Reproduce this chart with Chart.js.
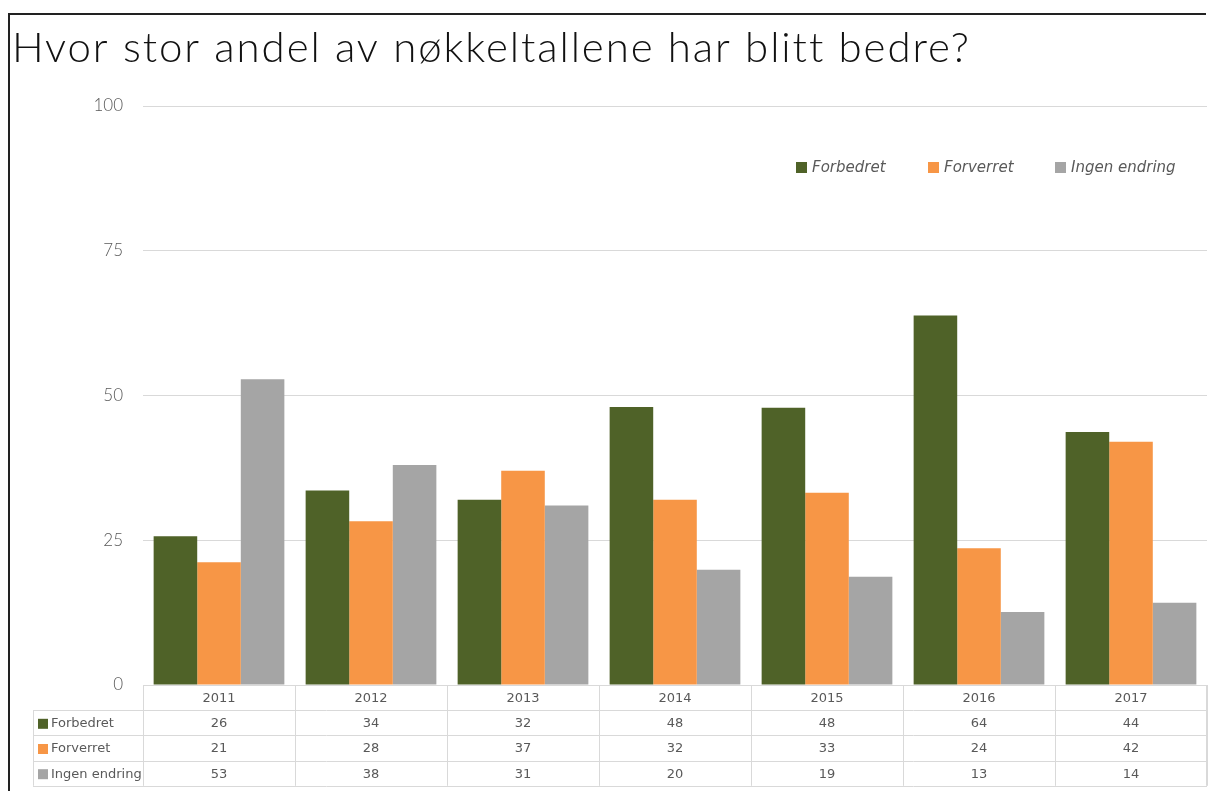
<!DOCTYPE html>
<html><head><meta charset="utf-8">
<script src="https://cdn.jsdelivr.net/npm/chart.js@4/dist/chart.umd.min.js"></script>
<style>html,body{margin:0;padding:0;background:#fff}#wrap{width:1208px;height:791px;position:relative}</style>
</head><body><div id="wrap"><canvas id="c" width="1208" height="791"></canvas></div>
<script>
const title = 'Hvor stor andel av nøkkeltallene har blitt bedre?';
const years = ['2011','2012','2013','2014','2015','2016','2017'];
const seriesNames = ['Forbedret','Forverret','Ingen endring'];
const forbedret = [25.7, 33.6, 32.0, 48.0, 47.9, 63.8, 43.7];
const forverret = [21.2, 28.3, 37.0, 32.0, 33.2, 23.6, 42.0];
const ingenEndring = [52.8, 38.0, 31.0, 19.9, 18.7, 12.6, 14.2];
const yTicks = [0, 25, 50, 75, 100];
const colors = ['#4f6228', '#f79646', '#a5a5a5'];
const allSeries = [forbedret, forverret, ingenEndring];

const decor = {
  id: 'decor',
  afterDraw(chart) {
    const ctx = chart.ctx, x = chart.scales.x, a = chart.chartArea;
    ctx.save();
    // frame
    ctx.strokeStyle = '#222'; ctx.lineWidth = 2;
    ctx.beginPath(); ctx.moveTo(9, 791); ctx.lineTo(9, 14); ctx.lineTo(1206, 14); ctx.stroke();
    // title
    ctx.fillStyle = '#111'; ctx.font = '300 42px Lato'; ctx.textBaseline = 'alphabetic'; ctx.textAlign = 'left';
    const t0 = ctx.measureText(title).width;
    const sp = Math.max(0, (956 - t0) / (title.length - 1));
    if ('letterSpacing' in ctx) { ctx.letterSpacing = sp.toFixed(2) + 'px'; ctx.fillText(title, 12, 62); ctx.letterSpacing = '0px'; }
    else { let cx = 12; for (const ch of title) { ctx.fillText(ch, cx, 62); cx += ctx.measureText(ch).width + sp; } }
    // legend
    ctx.font = 'italic 15px "DejaVu Sans"'; ctx.textBaseline = 'middle';
    const lx = [796, 928, 1055];
    seriesNames.forEach((n, i) => {
      ctx.fillStyle = colors[i]; ctx.fillRect(lx[i], 162, 11, 11);
      ctx.fillStyle = '#595959'; ctx.fillText(n, lx[i] + 16, 168);
    });
    // data table
    const step = x.getPixelForValue(1) - x.getPixelForValue(0);
    const left = a.left, right = a.right, top = a.bottom;
    const rowH = 25.2, labelLeft = 33;
    ctx.strokeStyle = '#d9d9d9'; ctx.lineWidth = 1;
    ctx.beginPath();
    ctx.moveTo(left, top + 0.5); ctx.lineTo(right, top + 0.5);
    for (let r = 1; r <= 4; r++) {
      const yy = Math.round(top + r * rowH) + 0.5;
      ctx.moveTo(labelLeft, yy); ctx.lineTo(right, yy);
    }
    for (let i = 0; i <= years.length; i++) {
      const xx = Math.round(x.getPixelForValue(i) - step / 2) + 0.5;
      ctx.moveTo(xx, top); ctx.lineTo(xx, top + 4 * rowH);
    }
    ctx.moveTo(labelLeft + 0.5, top + rowH); ctx.lineTo(labelLeft + 0.5, top + 4 * rowH);
    ctx.moveTo(right - 0.5, top); ctx.lineTo(right - 0.5, top + 4 * rowH);
    ctx.stroke();
    ctx.font = '13px "DejaVu Sans"'; ctx.fillStyle = '#595959'; ctx.textAlign = 'center'; ctx.textBaseline = 'middle';
    years.forEach((yr, i) => ctx.fillText(yr, x.getPixelForValue(i), top + rowH / 2 + 1));
    allSeries.forEach((s, r) => {
      const cy = top + (r + 1.5) * rowH + 1;
      s.forEach((v, i) => ctx.fillText(String(Math.round(v)), x.getPixelForValue(i), cy));
      ctx.fillStyle = colors[r]; ctx.fillRect(38, cy - 5, 10, 10);
      ctx.fillStyle = '#595959'; ctx.textAlign = 'left';
      ctx.fillText(seriesNames[r], 51, cy);
      ctx.textAlign = 'center';
    });
    ctx.restore();
  }
};

new Chart(document.getElementById('c'), {
  type: 'bar',
  data: {
    labels: years,
    datasets: seriesNames.map((n, i) => ({
      label: n, data: allSeries[i], backgroundColor: colors[i],
      categoryPercentage: 0.86, barPercentage: 1.0
    }))
  },
  options: {
    responsive: false, animation: false,
    layout: { padding: { top: 106, bottom: 106, left: 0, right: 1 } },
    plugins: { legend: { display: false }, title: { display: false }, tooltip: { enabled: false } },
    scales: {
      x: {
        ticks: { display: false }, grid: { display: false, drawTicks: false }, border: { display: false },
        afterFit: s => { s.height = 0; }
      },
      y: {
        min: 0, max: 100,
        afterBuildTicks: s => { s.ticks = yTicks.map(v => ({ value: v })); },
        ticks: { padding: 20, color: '#595959', font: { family: 'Lato', weight: '300', size: 17 } },
        grid: { color: '#d9d9d9', drawTicks: false }, border: { display: false },
        afterFit: s => { s.width = 143; }
      }
    }
  },
  plugins: [decor]
});
</script></body></html>
